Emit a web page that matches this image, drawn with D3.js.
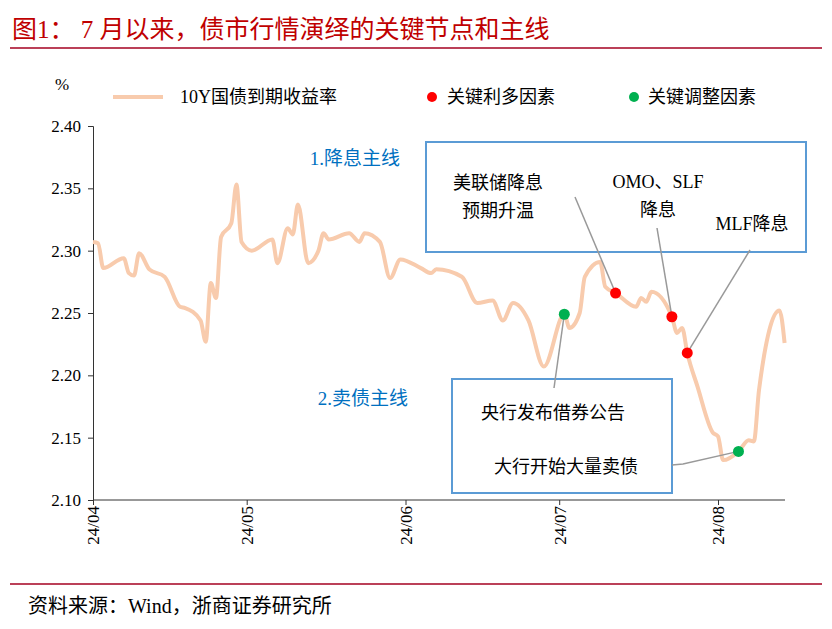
<!DOCTYPE html>
<html><head><meta charset="utf-8">
<script src="https://cdn.jsdelivr.net/npm/d3@7"></script>
<style>
body{margin:0;background:#fff}
text{font-family:"Liberation Serif","Noto Sans CJK SC",serif}
</style></head>
<body><svg id="chart" width="832" height="629"></svg>
<script>
// 10Y国债到期收益率
const dates = ["2024-04-01","2024-04-02","2024-04-03","2024-04-07","2024-04-08","2024-04-09","2024-04-10","2024-04-12","2024-04-15","2024-04-18","2024-04-19","2024-04-22","2024-04-23","2024-04-24","2024-04-25","2024-04-26","2024-04-28","2024-04-29","2024-04-30","2024-05-02","2024-05-06","2024-05-07","2024-05-09","2024-05-10","2024-05-11","2024-05-13","2024-05-15","2024-05-16","2024-05-17","2024-05-21","2024-05-23","2024-05-24","2024-05-27","2024-05-29","2024-05-31","2024-06-04","2024-06-06","2024-06-07","2024-06-12","2024-06-15","2024-06-18","2024-06-20","2024-06-22","2024-06-25","2024-06-28","2024-07-02","2024-07-03","2024-07-05","2024-07-06","2024-07-09","2024-07-10","2024-07-12","2024-07-16","2024-07-17","2024-07-18","2024-07-19","2024-07-23","2024-07-24","2024-07-25","2024-07-26","2024-07-28","2024-07-31","2024-08-01","2024-08-02","2024-08-05","2024-08-07","2024-08-08","2024-08-09","2024-08-13","2024-08-14"];
const yields = [2.307,2.306,2.286,2.294,2.282,2.280,2.298,2.285,2.279,2.255,2.254,2.244,2.227,2.274,2.262,2.311,2.322,2.353,2.307,2.300,2.309,2.290,2.318,2.313,2.337,2.290,2.300,2.314,2.309,2.314,2.307,2.314,2.307,2.278,2.293,2.286,2.282,2.285,2.279,2.258,2.260,2.244,2.258,2.244,2.207,2.249,2.238,2.250,2.279,2.291,2.271,2.266,2.255,2.262,2.259,2.267,2.247,2.234,2.238,2.218,2.191,2.154,2.151,2.132,2.139,2.148,2.147,2.188,2.252,2.226];
const bullDates = ["2024-07-12","2024-07-23","2024-07-26"];   // 关键利多因素
const adjustDates = ["2024-07-02","2024-08-05"];             // 关键调整因素
const yTicks = [2.10,2.15,2.20,2.25,2.30,2.35,2.40];
const monthTicks = ["2024-04-01","2024-05-01","2024-06-01","2024-07-01","2024-08-01"];

const parse = d3.timeParse("%Y-%m-%d");
const svg = d3.select("#chart");
const x = d3.scaleTime().domain([parse("2024-04-01"), parse("2024-08-01")]).range([93, 718]);
const y = d3.scaleLinear().domain([2.10, 2.40]).range([500, 126]);
const valueAt = d => yields[dates.indexOf(d)];

// 标题
svg.append("text").attr("x", 12).attr("y", 38).attr("fill", "#c00000")
  .attr("font-size", 25).text("图1：  7 月以来，债市行情演绎的关键节点和主线");
svg.append("line").attr("x1", 10).attr("x2", 822).attr("y1", 48).attr("y2", 48)
  .attr("stroke", "#a50021").attr("stroke-width", 1.5);

// 坐标轴
svg.append("g").attr("transform", "translate(93,0)")
  .call(d3.axisLeft(y).tickValues(yTicks).tickFormat(d3.format(".2f")).tickSize(5))
  .call(g => g.selectAll("text").attr("font-size", 17).attr("fill", "#000").attr("dx", -4))
  .call(g => g.selectAll("line,path").attr("stroke", "#333"));
svg.append("g").attr("transform", "translate(0,500)")
  .call(d3.axisBottom(x).tickValues(monthTicks.map(parse)).tickFormat(d3.timeFormat("%y/%m")).tickSize(5).tickSizeOuter(0))
  .call(g => g.select("path").attr("d", "M93,0H785"))
  .call(g => g.selectAll("line,path").attr("stroke", "#333"))
  .call(g => g.selectAll("text").attr("font-size", 17).attr("fill", "#000")
    .attr("transform", "rotate(-90)").attr("text-anchor", "end").attr("x", -6).attr("y", 0).attr("dy", "0.35em"));
svg.append("text").attr("x", 55).attr("y", 90).attr("font-size", 17).text("%");

// 曲线
svg.append("path").datum(dates)
  .attr("fill", "none").attr("stroke", "#f8cbad").attr("stroke-width", 4).attr("stroke-linejoin", "round")
  .attr("d", d3.line().x(d => x(parse(d))).y(d => y(valueAt(d))).curve(d3.curveMonotoneX));

// 注释框和引线
const blue = "#5b9bd5", grey = "#999";
svg.append("rect").attr("x", 426).attr("y", 142).attr("width", 380).attr("height", 110)
  .attr("fill", "none").attr("stroke", blue).attr("stroke-width", 2);
svg.append("rect").attr("x", 452).attr("y", 379).attr("width", 220).attr("height", 114)
  .attr("fill", "none").attr("stroke", blue).attr("stroke-width", 2);

const leaders = [
  [[575, 197], bullDates[0]],
  [[657, 228], bullDates[1]],
  [[750, 250], bullDates[2]],
  [[554, 388], adjustDates[0]]
];
leaders.forEach(([p, d]) => {
  svg.append("line").attr("x1", p[0]).attr("y1", p[1]).attr("x2", x(parse(d))).attr("y2", y(valueAt(d)))
    .attr("stroke", grey).attr("stroke-width", 1.5);
});
svg.append("polyline").attr("fill", "none").attr("stroke", grey).attr("stroke-width", 1.5)
  .attr("points", `672,465 683,464 ${x(parse(adjustDates[1]))},${y(valueAt(adjustDates[1]))}`);

// 关键点
svg.selectAll("circle.bull").data(bullDates).enter().append("circle")
  .attr("cx", d => x(parse(d))).attr("cy", d => y(valueAt(d))).attr("r", 5.5).attr("fill", "#ff0000");
svg.selectAll("circle.adj").data(adjustDates).enter().append("circle")
  .attr("cx", d => x(parse(d))).attr("cy", d => y(valueAt(d))).attr("r", 5.5).attr("fill", "#00b050");

// 文字
const label = (t, cx, cy, color = "#000", size = 18) =>
  svg.append("text").attr("x", cx).attr("y", cy).attr("text-anchor", "middle").attr("dy", "0.35em")
    .attr("fill", color).attr("font-size", size).text(t);
label("美联储降息", 498, 183); label("预期升温", 498, 211);
label("OMO、SLF", 658, 182); label("降息", 658, 210);
label("MLF降息", 752, 224);
label("央行发布借券公告", 553, 413); label("大行开始大量卖债", 566, 467);
label("1.降息主线", 355, 158, "#0070c0", 19);
label("2.卖债主线", 363, 398, "#0070c0", 19);

// 图例
svg.append("line").attr("x1", 113).attr("x2", 163).attr("y1", 97).attr("y2", 97)
  .attr("stroke", "#f8cbad").attr("stroke-width", 4);
svg.append("text").attr("x", 180).attr("y", 97).attr("dy", "0.35em").attr("font-size", 18).text("10Y国债到期收益率");
svg.append("circle").attr("cx", 432).attr("cy", 97).attr("r", 5).attr("fill", "#ff0000");
svg.append("text").attr("x", 447).attr("y", 97).attr("dy", "0.35em").attr("font-size", 18).text("关键利多因素");
svg.append("circle").attr("cx", 634).attr("cy", 97).attr("r", 5).attr("fill", "#00b050");
svg.append("text").attr("x", 648).attr("y", 97).attr("dy", "0.35em").attr("font-size", 18).text("关键调整因素");

// 来源
svg.append("line").attr("x1", 10).attr("x2", 822).attr("y1", 584).attr("y2", 584)
  .attr("stroke", "#a50021").attr("stroke-width", 1.5);
svg.append("text").attr("x", 28).attr("y", 613).attr("font-size", 20).text("资料来源：Wind，浙商证券研究所");
</script></body></html>
